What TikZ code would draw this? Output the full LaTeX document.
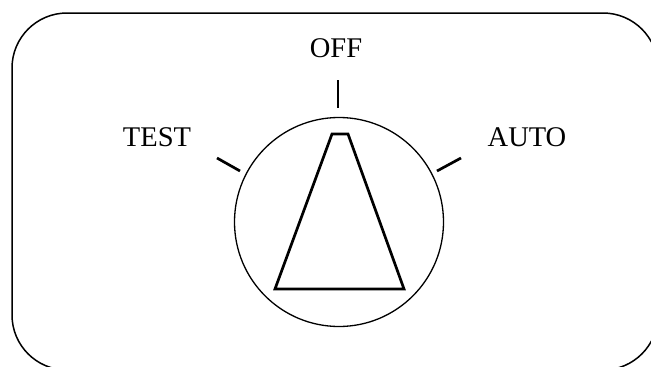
\documentclass[tikz,border=0pt]{standalone}
\usepackage{fontspec}
\setmainfont{Liberation Serif}
\begin{document}
\begin{tikzpicture}[x=1pt,y=-1pt,
  frame/.style={line width=1.5pt,rounded corners=55pt},
  dial/.style={circle,draw,line width=1.3pt,minimum size=209pt,inner sep=0pt},
  pointer/.style={line width=2.7pt,line join=miter},
  tick/.style={line width=2.7pt},
  lbl/.style={font=\fontsize{28.5}{30}\selectfont,anchor=base,inner sep=0pt}]
\useasboundingbox (0,0) rectangle (651,367);
% housing outline
\draw[frame] (12,13) rectangle (658,370);
% selector knob
\node[dial] (knob) at (339,222) {};
\draw[pointer] (332,134) -- (348,134) -- (404,289) -- (275,289) -- cycle;
% position marks
\coordinate (offa) at (338,80);  \coordinate (offb) at (338,108);
\coordinate (testa) at (217,158); \coordinate (testb) at (240,171);
\coordinate (autoa) at (461,158); \coordinate (autob) at (437,171);
\draw[tick] (offa) -- (offb);
\draw[tick] (testa) -- (testb);
\draw[tick] (autoa) -- (autob);
% position labels
\node[lbl] (off) at (336,57) {OFF};
\node[lbl] (test) at (157,146) {TEST};
\node[lbl] (auto) at (527,146) {AUTO};
\end{tikzpicture}
\end{document}
